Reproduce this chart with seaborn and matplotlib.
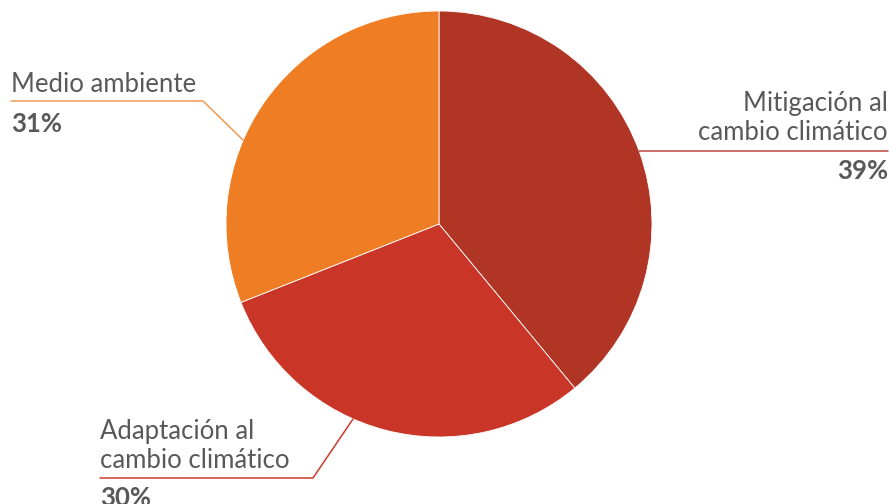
import matplotlib
matplotlib.use("Agg")
import matplotlib.pyplot as plt
import seaborn as sns

# datos del gráfico
categorias = ["Mitigación al\ncambio climático", "Adaptación al\ncambio climático", "Medio ambiente"]
valores = [39, 30, 31]
etiquetas_pct = ["39%", "30%", "31%"]
colores = ["#B03525", "#C93628", "#EE7D23"]

sns.set_theme(style="white")
plt.rcParams['font.family'] = ['Lato', 'DejaVu Sans']
texto_color = "#595959"

fig = plt.figure(figsize=(8.91, 5.04), dpi=100)
ax = fig.add_axes([0, 0, 1, 1])

# pastel en coordenadas de pixel (y hacia arriba)
cx, cy, r = 439, 504 - 224, 213
ax.pie(valores, colors=colores, startangle=90, counterclock=False,
       center=(cx, cy), radius=r,
       wedgeprops=dict(edgecolor="white", linewidth=0.6))
ax.set_xlim(0, 891)
ax.set_ylim(0, 504)
ax.set_aspect("auto")
ax.axis("off")

fs = 18.5

def Y(y):
    return 504 - y

# Mitigación
ax.plot([639, 888], [Y(151), Y(151)], color="#B8483C", lw=1.1)
ax.text(888, Y(118), categorias[0], ha="right", va="center", fontsize=fs,
        color=texto_color, linespacing=1.15)
ax.text(888, Y(171), etiquetas_pct[0], ha="right", va="center", fontsize=fs,
        color=texto_color, fontweight="bold")

# Medio ambiente
ax.plot([11, 203, 243], [Y(101), Y(101), Y(140)], color="#F09A55", lw=1.1)
ax.text(11, Y(84), categorias[2], ha="left", va="center", fontsize=fs,
        color=texto_color)
ax.text(11, Y(124), etiquetas_pct[2], ha="left", va="center", fontsize=fs,
        color=texto_color, fontweight="bold")

# Adaptación
ax.plot([353, 313, 100], [Y(419), Y(478), Y(478)], color="#CC3A2E", lw=1.1)
ax.text(100, Y(446), categorias[1], ha="left", va="center", fontsize=fs,
        color=texto_color, linespacing=1.15)
ax.text(100, Y(498), etiquetas_pct[1], ha="left", va="center", fontsize=fs,
        color=texto_color, fontweight="bold")

fig.savefig("out.png", dpi=100)
